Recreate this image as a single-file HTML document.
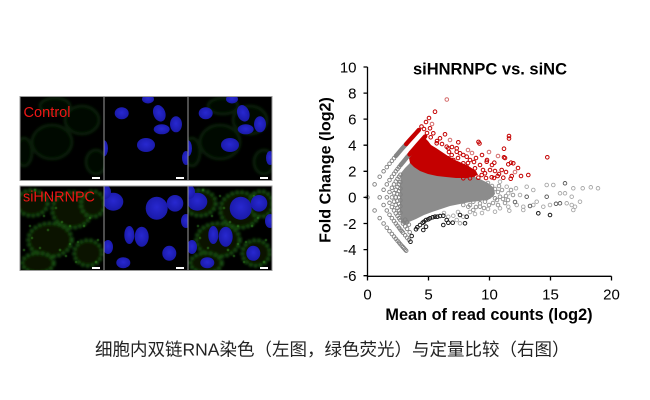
<!DOCTYPE html>
<html><head><meta charset="utf-8"><style>
html,body{margin:0;padding:0;background:#fff;}
svg{display:block;}
</style></head><body>
<svg width="650" height="400" viewBox="0 0 650 400" xmlns="http://www.w3.org/2000/svg">
<defs>
<filter id="bl" x="-20%" y="-20%" width="140%" height="140%"><feGaussianBlur stdDeviation="1.3"/></filter>
<filter id="bs" x="-20%" y="-20%" width="140%" height="140%"><feGaussianBlur stdDeviation="0.5"/></filter>
<radialGradient id="nuc" cx="50%" cy="45%" r="60%"><stop offset="0" stop-color="#2828d0"/><stop offset="1" stop-color="#1818a4"/></radialGradient>
<clipPath id="c00"><rect x="20" y="96.5" width="84" height="84"/></clipPath>
<clipPath id="c01"><rect x="104" y="96.5" width="84" height="84"/></clipPath>
<clipPath id="c02"><rect x="188" y="96.5" width="84" height="84"/></clipPath>
<clipPath id="c10"><rect x="20" y="186" width="84" height="84.5"/></clipPath>
<clipPath id="c11"><rect x="104" y="186" width="84" height="84.5"/></clipPath>
<clipPath id="c12"><rect x="188" y="186" width="84" height="84.5"/></clipPath>
<g id="gctl">
  <g filter="url(#bl)" fill="#030803" stroke="#0c2a09" stroke-width="3" opacity="0.7">
    <ellipse cx="82" cy="120" rx="17" ry="14"/>
    <ellipse cx="52" cy="142" rx="20" ry="17"/>
    <ellipse cx="24" cy="152" rx="8" ry="14"/>
    <ellipse cx="96" cy="162" rx="10" ry="12"/>
    <ellipse cx="55" cy="106" rx="15" ry="8"/>
  </g>
</g>
<g id="gsi">
  <g filter="url(#bl)" fill="#071805" stroke="#1d5a13" stroke-width="3.5" stroke-dasharray="3 2" opacity="0.9">
    <ellipse cx="32" cy="203" rx="16" ry="13"/>
    <ellipse cx="72" cy="210" rx="20" ry="18"/>
    <ellipse cx="93" cy="204" rx="12" ry="13"/>
    <ellipse cx="50" cy="240" rx="22" ry="17"/>
    <ellipse cx="88" cy="253" rx="14" ry="13"/>
    <ellipse cx="38" cy="263" rx="16" ry="10"/>
  </g>
  <g filter="url(#bs)" fill="#3fa82a" opacity="0.75">
    <circle cx="62" cy="222" r="1"/><circle cx="70" cy="226" r="1"/><circle cx="84" cy="226" r="1.1"/>
    <circle cx="90" cy="218" r="1"/><circle cx="44" cy="216" r="1"/><circle cx="52" cy="196" r="1"/>
    <circle cx="30" cy="226" r="1"/><circle cx="60" cy="250" r="1.1"/><circle cx="66" cy="256" r="1"/>
    <circle cx="96" cy="262" r="1"/><circle cx="76" cy="262" r="1"/><circle cx="24" cy="250" r="1"/>
    <circle cx="40" cy="248" r="1"/><circle cx="78" cy="242" r="1"/><circle cx="98" cy="240" r="1"/>
    <circle cx="56" cy="208" r="1"/><circle cx="86" cy="196" r="1"/><circle cx="35" cy="190" r="1"/>
    <circle cx="48" cy="230" r="1"/><circle cx="32" cy="238" r="1"/><circle cx="70" cy="244" r="1"/>
  </g>
</g>
<g id="n0" fill="url(#nuc)">
  <ellipse cx="121.7" cy="113.3" rx="7" ry="6"/>
  <ellipse cx="148" cy="99" rx="6" ry="4.5"/>
  <ellipse cx="159.3" cy="113.3" rx="6" ry="8.5" transform="rotate(-20 159.3 113.3)"/>
  <ellipse cx="161.7" cy="129.3" rx="8" ry="5"/>
  <ellipse cx="176" cy="124.3" rx="6" ry="8"/>
  <ellipse cx="146" cy="145" rx="9" ry="7"/>
  <ellipse cx="104" cy="148.3" rx="4" ry="8"/>
  <ellipse cx="186" cy="158" rx="4" ry="7"/>
</g>
<g id="n1" fill="url(#nuc)">
  <ellipse cx="113.3" cy="201.7" rx="10" ry="9"/>
  <ellipse cx="156.7" cy="208.3" rx="11" ry="11.5"/>
  <ellipse cx="175" cy="203.3" rx="8.3" ry="8.3"/>
  <ellipse cx="105" cy="192" rx="6" ry="7"/>
  <ellipse cx="186" cy="221" rx="5" ry="7"/>
  <ellipse cx="129.3" cy="235" rx="5" ry="9"/>
  <ellipse cx="141.7" cy="236.7" rx="7" ry="10"/>
  <ellipse cx="108" cy="247" rx="5" ry="7"/>
  <ellipse cx="169.3" cy="253.3" rx="7" ry="7.5"/>
  <ellipse cx="123.3" cy="262.7" rx="7" ry="5.5"/>
</g>
</defs>
<rect width="650" height="400" fill="#fff"/>

<!-- ===== microscopy panels ===== -->
<rect x="20" y="96.5" width="252" height="84" fill="#000"/>
<rect x="20" y="186" width="252" height="84.5" fill="#000"/>
<g clip-path="url(#c00)"><use href="#gctl"/></g>
<g clip-path="url(#c01)"><use href="#n0"/></g>
<g clip-path="url(#c02)"><use href="#gctl" transform="translate(168,0)"/><use href="#n0" transform="translate(84,0)"/></g>
<g clip-path="url(#c10)"><use href="#gsi"/></g>
<g clip-path="url(#c11)"><use href="#n1"/></g>
<g clip-path="url(#c12)"><use href="#gsi" transform="translate(168,0)"/><use href="#n1" transform="translate(84,0)"/></g>
<g fill="none" stroke="#9a9a9a" stroke-width="1">
  <rect x="20" y="96.5" width="84" height="84"/><rect x="104" y="96.5" width="84" height="84"/><rect x="188" y="96.5" width="84" height="84"/>
  <rect x="20" y="186" width="84" height="84.5"/><rect x="104" y="186" width="84" height="84.5"/><rect x="188" y="186" width="84" height="84.5"/>
</g>
<g fill="#fff">
  <rect x="92" y="177" width="8" height="2"/><rect x="176" y="177" width="8" height="2"/><rect x="260" y="177" width="8" height="2"/>
  <rect x="92" y="267" width="8" height="2"/><rect x="176" y="267" width="8" height="2"/><rect x="260" y="267" width="8" height="2"/>
</g>
<text x="23.5" y="117" font-family="Liberation Sans, Arial, sans-serif" font-size="14.6" fill="#ee1616">Control</text>
<text x="23" y="201.5" font-family="Liberation Sans, Arial, sans-serif" font-size="14.4" fill="#ee1616">siHNRNPC</text>

<!-- ===== MA plot ===== -->
<polygon fill="#8c8c8c" points="401,173 405,168 409,164 414,158 425,152 440,160 455,168 470,175 480,179 488,183 494,188 495,194 490,199 480,201 470,202 460,204 450,206 441,209 432,212 424,215 416,219 409,222 404,225 401,222 400,212 400,200 400,186"/>
<polygon fill="#c40000" points="409,158 412,153 416,148 421,142 425,138 428,141 431,145 436,148 442,152 448,156 455,160 462,163 470,167 476,171 478,175 472,177 464,178 456,178 446,177 437,176 428,174 420,171 414,167 410,163"/>
<g fill="none" stroke-linecap="round" stroke-linejoin="round" stroke-width="4.4">
  <path stroke="#858585" d="M395.8,156 L397.5,154.05 L399,152.25 L401.7,149.1 L404.1,146.4 L406.2,144.1"/>
  <path stroke="#c40000" d="M406.2,144.1 L409.7,140.1 L413.3,136.1 L416.3,132.8 L418.9,129.9"/>
  <path stroke="#858585" d="M400.4,165.3 L403,162.2 L405.2,159.5 L407.1,157.1 L409.5,154.5"/>
  <path stroke="#c40000" d="M409.5,154.5 L410.5,153.1 L414,149.1 L416.8,145.8 L421.5,140.5 L425.2,136.4"/>
</g>
<g fill="none" stroke="#808080" stroke-width="0.9">
<circle cx="374.6" cy="184.35" r="1.8"/><circle cx="379.7" cy="176.7" r="1.8"/><circle cx="383.6" cy="189.8" r="1.8"/><circle cx="383.6" cy="171.3" r="1.8"/>
<circle cx="386.8" cy="184.35" r="1.8"/><circle cx="386.8" cy="167.1" r="1.8"/><circle cx="389.5" cy="192" r="1.8"/><circle cx="389.5" cy="180.1" r="1.8"/><circle cx="389.5" cy="163.7" r="1.8"/>
<circle cx="391.9" cy="187.8" r="1.8"/><circle cx="391.9" cy="176.7" r="1.8"/><circle cx="391.9" cy="160.8" r="1.8"/>
<circle cx="394" cy="193.2" r="1.8"/><circle cx="394" cy="184.35" r="1.8"/><circle cx="394" cy="173.8" r="1.8"/><circle cx="394" cy="158.25" r="1.8"/>
<circle cx="395.8" cy="189.8" r="1.8"/><circle cx="395.8" cy="181.45" r="1.8"/><circle cx="395.8" cy="171.3" r="1.8"/>
<circle cx="397.5" cy="194" r="1.8"/><circle cx="397.5" cy="186.9" r="1.8"/><circle cx="397.5" cy="178.9" r="1.8"/><circle cx="397.5" cy="169.1" r="1.8"/>
<circle cx="399" cy="191.1" r="1.8"/><circle cx="399" cy="184.35" r="1.8"/><circle cx="399" cy="176.7" r="1.8"/><circle cx="399" cy="167.1" r="1.8"/>
<circle cx="400.4" cy="194.5" r="1.8"/><circle cx="400.4" cy="188.55" r="1.8"/><circle cx="400.4" cy="182.1" r="1.8"/><circle cx="400.4" cy="174.7" r="1.8"/>
<circle cx="367.5" cy="197.4" r="1.8"/><circle cx="379.7" cy="197.4" r="1.8"/><circle cx="386.8" cy="197.4" r="1.8"/><circle cx="391.9" cy="197.4" r="1.8"/><circle cx="395.8" cy="197.4" r="1.8"/><circle cx="399" cy="197.4" r="1.8"/>
<circle cx="374.6" cy="210.45" r="1.8"/><circle cx="379.7" cy="218.1" r="1.8"/><circle cx="383.6" cy="205" r="1.8"/><circle cx="383.6" cy="223.5" r="1.8"/>
<circle cx="386.8" cy="210.45" r="1.8"/><circle cx="386.8" cy="227.7" r="1.8"/><circle cx="389.5" cy="202.8" r="1.8"/><circle cx="389.5" cy="214.7" r="1.8"/><circle cx="389.5" cy="231.1" r="1.8"/>
<circle cx="391.9" cy="207" r="1.8"/><circle cx="391.9" cy="218.1" r="1.8"/><circle cx="391.9" cy="234" r="1.8"/>
<circle cx="394" cy="201.6" r="1.8"/><circle cx="394" cy="210.45" r="1.8"/><circle cx="394" cy="221" r="1.8"/><circle cx="394" cy="236.55" r="1.8"/>
<circle cx="395.8" cy="205" r="1.8"/><circle cx="395.8" cy="213.35" r="1.8"/><circle cx="395.8" cy="223.5" r="1.8"/><circle cx="395.8" cy="238.8" r="1.8"/>
<circle cx="397.5" cy="200.8" r="1.8"/><circle cx="397.5" cy="207.9" r="1.8"/><circle cx="397.5" cy="215.9" r="1.8"/><circle cx="397.5" cy="225.7" r="1.8"/><circle cx="397.5" cy="240.75" r="1.8"/>
<circle cx="399" cy="203.7" r="1.8"/><circle cx="399" cy="210.45" r="1.8"/><circle cx="399" cy="218.1" r="1.8"/><circle cx="399" cy="227.7" r="1.8"/><circle cx="399" cy="242.55" r="1.8"/>
<circle cx="400.4" cy="200.3" r="1.8"/><circle cx="400.4" cy="206.25" r="1.8"/><circle cx="400.4" cy="212.7" r="1.8"/><circle cx="400.4" cy="220.1" r="1.8"/><circle cx="400.4" cy="229.5" r="1.8"/><circle cx="400.4" cy="244.2" r="1.8"/>
<circle cx="401.7" cy="231.1" r="1.8"/><circle cx="401.7" cy="245.7" r="1.8"/><circle cx="403" cy="247.1" r="1.8"/><circle cx="404.1" cy="248.4" r="1.8"/><circle cx="405.2" cy="249.6" r="1.8"/><circle cx="406.2" cy="250.7" r="1.8"/>
<circle cx="403" cy="232.6" r="1.8"/><circle cx="405.2" cy="235.3" r="1.8"/><circle cx="407.1" cy="237.7" r="1.8"/><circle cx="408.9" cy="239.8" r="1.8"/>
<circle cx="403" cy="223.5" r="1.8"/><circle cx="405.2" cy="226.4" r="1.8"/><circle cx="407.1" cy="228.9" r="1.8"/><circle cx="409.7" cy="232.2" r="1.8"/>
<circle cx="405.2" cy="219.6" r="1.8"/><circle cx="407.1" cy="222.3" r="1.8"/><circle cx="408.9" cy="224.6" r="1.8"/>
</g>
<g fill="none" stroke="#8c8c8c" stroke-width="0.9">
<circle cx="488" cy="183" r="1.8"/><circle cx="492" cy="186" r="1.8"/><circle cx="495" cy="189" r="1.8"/><circle cx="498" cy="192" r="1.8"/><circle cx="502" cy="190" r="1.8"/>
<circle cx="497" cy="200" r="1.8"/><circle cx="493" cy="203" r="1.8"/><circle cx="489" cy="205" r="1.8"/><circle cx="485" cy="195" r="1.8"/><circle cx="482" cy="192" r="1.8"/>
<circle cx="503" cy="199" r="1.8"/><circle cx="506" cy="196" r="1.8"/><circle cx="511" cy="190" r="1.8"/><circle cx="513" cy="195" r="1.8"/><circle cx="505" cy="203" r="1.8"/>
<circle cx="498" cy="205" r="1.8"/><circle cx="484" cy="208" r="1.8"/><circle cx="476" cy="207" r="1.8"/><circle cx="470" cy="205" r="1.8"/>
<circle cx="463.3" cy="189.3" r="1.8"/><circle cx="473.3" cy="186.7" r="1.8"/><circle cx="480" cy="185" r="1.8"/><circle cx="486.7" cy="186.7" r="1.8"/><circle cx="491.7" cy="190" r="1.8"/>
<circle cx="491.7" cy="195" r="1.8"/><circle cx="495" cy="198.3" r="1.8"/><circle cx="500" cy="196.7" r="1.8"/><circle cx="486.7" cy="198.3" r="1.8"/>
<circle cx="473.3" cy="201.7" r="1.8"/><circle cx="480" cy="203.3" r="1.8"/><circle cx="485" cy="201.7" r="1.8"/><circle cx="468.3" cy="206.7" r="1.8"/><circle cx="463.3" cy="205" r="1.8"/>
<circle cx="473.3" cy="210" r="1.8"/><circle cx="480" cy="206.7" r="1.8"/><circle cx="499" cy="186" r="1.8"/><circle cx="508" cy="200" r="1.8"/>
</g>
<g fill="none" stroke="#a8a8a8" stroke-width="0.9">
<circle cx="500" cy="181.7" r="1.8"/><circle cx="506.7" cy="186.7" r="1.8"/><circle cx="516" cy="188.3" r="1.8"/><circle cx="526.7" cy="186.7" r="1.8"/>
<circle cx="533.3" cy="190" r="1.8"/><circle cx="546.7" cy="185" r="1.8"/><circle cx="553.3" cy="185" r="1.8"/><circle cx="573.3" cy="188.3" r="1.8"/>
<circle cx="582.7" cy="188.3" r="1.8"/><circle cx="590.8" cy="187.3" r="1.8"/><circle cx="598" cy="188.3" r="1.8"/>
<circle cx="508.3" cy="193.3" r="1.8"/><circle cx="520" cy="195" r="1.8"/><circle cx="536.7" cy="201.7" r="1.8"/><circle cx="560" cy="193.3" r="1.8"/>
<circle cx="565" cy="193.3" r="1.8"/><circle cx="571.7" cy="196.7" r="1.8"/><circle cx="580" cy="201.7" r="1.8"/><circle cx="571.7" cy="205" r="1.8"/>
<circle cx="566.7" cy="203.3" r="1.8"/><circle cx="550" cy="205" r="1.8"/><circle cx="543.3" cy="206.7" r="1.8"/><circle cx="533.3" cy="205" r="1.8"/>
<circle cx="523.3" cy="206.7" r="1.8"/><circle cx="516.7" cy="205" r="1.8"/><circle cx="508.3" cy="206.7" r="1.8"/><circle cx="500" cy="208.3" r="1.8"/>
<circle cx="495" cy="211.7" r="1.8"/><circle cx="509.3" cy="210.7" r="1.8"/><circle cx="523.3" cy="210" r="1.8"/><circle cx="573.3" cy="210" r="1.8"/><circle cx="575" cy="206.7" r="1.8"/>
<circle cx="448.3" cy="216.7" r="1.8"/><circle cx="453.3" cy="215.7" r="1.8"/><circle cx="456.7" cy="220" r="1.8"/><circle cx="463.3" cy="216.7" r="1.8"/>
<circle cx="460" cy="223.3" r="1.8"/><circle cx="470" cy="212" r="1.8"/><circle cx="475" cy="214" r="1.8"/><circle cx="482" cy="213" r="1.8"/><circle cx="488" cy="209" r="1.8"/>
<circle cx="458" cy="212" r="1.8"/><circle cx="444" cy="213" r="1.8"/>
</g>
<g fill="none" stroke="#555" stroke-width="0.9">
<circle cx="565" cy="183.3" r="1.8"/><circle cx="546.7" cy="196.7" r="1.8"/><circle cx="526.7" cy="196.7" r="1.8"/><circle cx="560" cy="203.3" r="1.8"/>
<circle cx="556" cy="203.8" r="1.8"/><circle cx="530" cy="206" r="1.8"/><circle cx="515" cy="202" r="1.8"/>
</g>
<g fill="none" stroke="#1a1a1a" stroke-width="1">
<circle cx="410.5" cy="241.7" r="1.8"/><circle cx="411.7" cy="236" r="1.8"/><circle cx="416" cy="229.3" r="1.8"/><circle cx="417.3" cy="227.3" r="1.8"/>
<circle cx="420" cy="225" r="1.8"/><circle cx="422.7" cy="222.7" r="1.8"/><circle cx="424" cy="221.7" r="1.8"/><circle cx="426" cy="220" r="1.8"/>
<circle cx="428.3" cy="219.3" r="1.8"/><circle cx="430" cy="218.3" r="1.8"/><circle cx="432.7" cy="217.3" r="1.8"/><circle cx="435" cy="216.7" r="1.8"/>
<circle cx="437.3" cy="216.7" r="1.8"/><circle cx="440" cy="216" r="1.8"/><circle cx="443.3" cy="215.7" r="1.8"/><circle cx="426" cy="226.7" r="1.8"/>
<circle cx="443.3" cy="225" r="1.8"/><circle cx="448.3" cy="222.7" r="1.8"/><circle cx="452.7" cy="222.7" r="1.8"/><circle cx="465" cy="223.3" r="1.8"/>
<circle cx="466.7" cy="216.7" r="1.8"/><circle cx="460" cy="215" r="1.8"/><circle cx="446.7" cy="220" r="1.8"/><circle cx="423.3" cy="230" r="1.8"/>
<circle cx="538.3" cy="213.3" r="1.8"/><circle cx="550" cy="215" r="1.8"/>
</g>
<g fill="none" stroke="#c40000" stroke-width="1">
<circle cx="435" cy="111.7" r="1.8"/><circle cx="429" cy="118" r="1.8"/><circle cx="426" cy="122" r="1.8"/><circle cx="421.5" cy="126.5" r="1.8"/>
<circle cx="424" cy="129" r="1.8"/><circle cx="430" cy="128.3" r="1.8"/><circle cx="433.3" cy="133.3" r="1.8"/><circle cx="440" cy="138.3" r="1.8"/>
<circle cx="445" cy="134.3" r="1.8"/><circle cx="437" cy="141" r="1.8"/><circle cx="448.3" cy="148.3" r="1.8"/><circle cx="456.7" cy="151.7" r="1.8"/>
<circle cx="463.3" cy="155" r="1.8"/><circle cx="458.3" cy="142.3" r="1.8"/><circle cx="452" cy="147" r="1.8"/><circle cx="478.5" cy="141.9" r="1.8"/>
<circle cx="479.5" cy="143.5" r="1.8"/><circle cx="509" cy="136" r="1.8"/><circle cx="509" cy="138.5" r="1.8"/><circle cx="504" cy="148.7" r="1.8"/>
<circle cx="504" cy="157.3" r="1.8"/><circle cx="508.3" cy="164.3" r="1.8"/><circle cx="511" cy="162.7" r="1.8"/><circle cx="513.3" cy="163.3" r="1.8"/>
<circle cx="547.3" cy="157.3" r="1.8"/><circle cx="528.3" cy="175" r="1.8"/><circle cx="501.7" cy="170" r="1.8"/><circle cx="497.7" cy="176" r="1.8"/>
<circle cx="503.3" cy="177.7" r="1.8"/><circle cx="511.7" cy="176" r="1.8"/><circle cx="510.7" cy="178.7" r="1.8"/><circle cx="490" cy="170" r="1.8"/>
<circle cx="491.7" cy="177.3" r="1.8"/><circle cx="485" cy="173.3" r="1.8"/><circle cx="481.7" cy="175" r="1.8"/><circle cx="473.3" cy="175" r="1.8"/>
<circle cx="470" cy="160" r="1.8"/><circle cx="466.7" cy="166.7" r="1.8"/><circle cx="463.3" cy="163.3" r="1.8"/><circle cx="460" cy="170" r="1.8"/>
<circle cx="456.7" cy="165" r="1.8"/><circle cx="453.3" cy="160" r="1.8"/><circle cx="451.7" cy="155" r="1.8"/><circle cx="480" cy="165" r="1.8"/>
<circle cx="475" cy="168.3" r="1.8"/><circle cx="478.3" cy="177.7" r="1.8"/><circle cx="466.7" cy="176" r="1.8"/><circle cx="463.3" cy="178.3" r="1.8"/>
<circle cx="470" cy="178.3" r="1.8"/><circle cx="448.3" cy="158.3" r="1.8"/><circle cx="441.7" cy="155" r="1.8"/>
<circle cx="436.7" cy="143.3" r="1.8"/><circle cx="430.7" cy="137.3" r="1.8"/><circle cx="456.7" cy="148.3" r="1.8"/><circle cx="460" cy="153.3" r="1.8"/>
<circle cx="466.7" cy="156.7" r="1.8"/><circle cx="446.7" cy="146.7" r="1.8"/><circle cx="487" cy="160" r="1.8"/><circle cx="492" cy="165" r="1.8"/>
<circle cx="495" cy="171" r="1.8"/><circle cx="483" cy="170" r="1.8"/><circle cx="474" cy="162" r="1.8"/><circle cx="486" cy="178" r="1.8"/>
<circle cx="499" cy="174" r="1.8"/><circle cx="494" cy="178" r="1.8"/><circle cx="518" cy="168" r="1.8"/><circle cx="521" cy="176" r="1.8"/>
<circle cx="506" cy="172" r="1.8"/><circle cx="482" cy="155" r="1.8"/><circle cx="476" cy="158" r="1.8"/><circle cx="494.3" cy="162.7" r="1.8"/>
<circle cx="486.7" cy="161.7" r="1.8"/><circle cx="505" cy="158" r="1.8"/><circle cx="427" cy="133" r="1.8"/><circle cx="442" cy="144" r="1.8"/>
<circle cx="471" cy="171" r="1.8"/><circle cx="468" cy="163" r="1.8"/><circle cx="458" cy="158" r="1.8"/><circle cx="449" cy="152" r="1.8"/>
</g>
<g fill="none" stroke="#d46a6a" stroke-width="1">
<circle cx="446.8" cy="99.5" r="1.8"/><circle cx="432" cy="124" r="1.8"/><circle cx="450" cy="140" r="1.8"/><circle cx="468" cy="150" r="1.8"/>
<circle cx="498" cy="156" r="1.8"/><circle cx="515" cy="172" r="1.8"/><circle cx="472" cy="153" r="1.8"/><circle cx="489" cy="152" r="1.8"/>
</g>

<g stroke="#000" stroke-width="1.3" fill="none">
  <path d="M367.5,67 V276.3 H611.5"/>
  <path d="M363.5,67 H367.5 M363.5,93.1 H367.5 M363.5,119.1 H367.5 M363.5,145.2 H367.5 M363.5,171.3 H367.5 M363.5,197.4 H367.5 M363.5,223.5 H367.5 M363.5,249.6 H367.5 M363.5,275.7 H367.5"/>
  <path d="M367.5,276.3 V280.5 M428.5,276.3 V280.5 M489.5,276.3 V280.5 M550.5,276.3 V280.5 M611.5,276.3 V280.5"/>
</g>
<g font-family="Liberation Sans, Arial, sans-serif" font-size="15" fill="#000" text-anchor="end">
  <text x="356.5" y="72.3">10</text><text x="356.5" y="98.4">8</text><text x="356.5" y="124.4">6</text>
  <text x="356.5" y="150.5">4</text><text x="356.5" y="176.6">2</text><text x="356.5" y="202.7">0</text>
  <text x="356.5" y="228.8">-2</text><text x="356.5" y="254.9">-4</text><text x="356.5" y="281">-6</text>
</g>
<g font-family="Liberation Sans, Arial, sans-serif" font-size="15" fill="#000" text-anchor="middle">
  <text x="367.5" y="299.5">0</text><text x="428.5" y="299.5">5</text><text x="489.5" y="299.5">10</text>
  <text x="550.5" y="299.5">15</text><text x="611.5" y="299.5">20</text>
</g>
<g font-family="Liberation Sans, Arial, sans-serif" font-weight="bold" fill="#000" text-anchor="middle">
  <text x="490" y="74.5" font-size="16.5">siHNRNPC vs. siNC</text>
  <text x="489" y="320" font-size="16.3">Mean of read counts (log2)</text>
  <text transform="translate(330.5,170) rotate(-90)" font-size="16.1">Fold Change (log2)</text>
</g>

<text x="95" y="355.5" font-family="Liberation Sans, Noto Sans CJK SC, sans-serif" font-size="17.5" fill="#222">细胞内双链RNA染色（左图，绿色荧光）与定量比较（右图）</text>
</svg>
</body></html>
